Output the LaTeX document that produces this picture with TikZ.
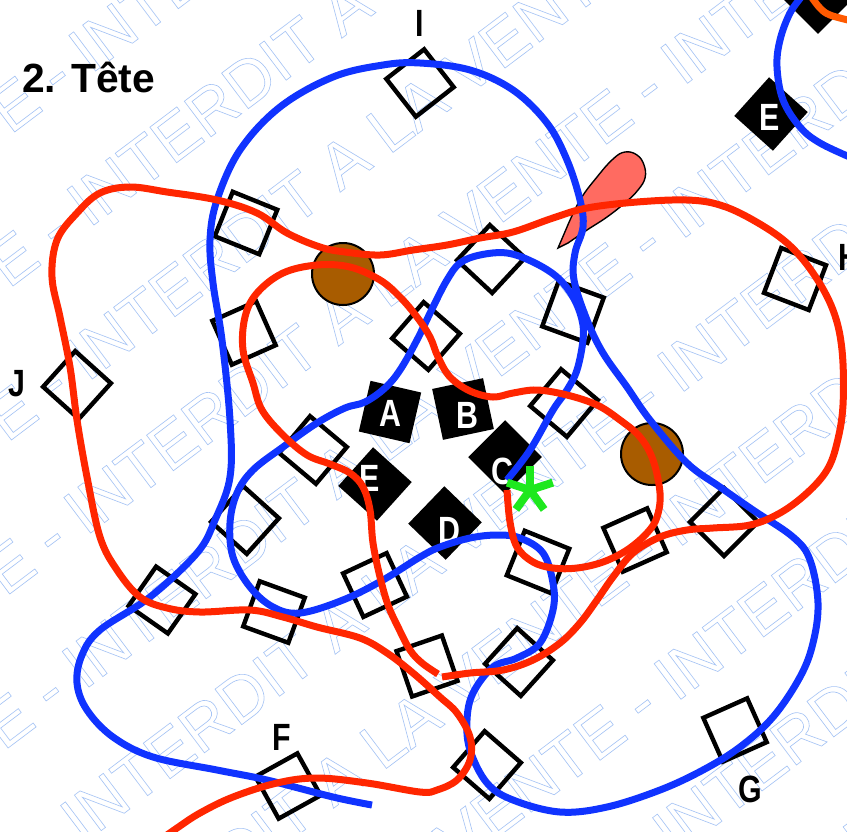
\documentclass[tikz,border=0pt]{standalone}
\usepackage{fontspec}
\setmainfont{Liberation Sans}
\newfontfamily\labelfont[FakeStretch=0.8]{Liberation Sans}
\usetikzlibrary{positioning}
\definecolor{wmblue}{HTML}{A6C4F5}
\definecolor{pathblue}{HTML}{1033FF}
\definecolor{pathred}{HTML}{FF2600}
\definecolor{pathorange}{HTML}{FF5A00}
\definecolor{beadbrown}{HTML}{A85C00}
\definecolor{leafred}{HTML}{FF6B61}
\definecolor{stargreen}{HTML}{1EE81E}
\newcommand{\wmtext}{INTERDIT A LA VENTE - }
\tikzset{
  slot/.style={
    draw,
    black,
    rectangle,
    line width=1.1mm,
    minimum size=12mm,
    inner sep=0,
  },
  piece/.style={
    fill=black,
    rectangle,
    minimum size=13mm,
    inner sep=0,
  },
  piecelabel/.style={
    white,
    inner sep=0,
    font=\labelfont\bfseries\fontsize{27}{27}\selectfont,
  },
  letter/.style={
    black,
    inner sep=0,
    font=\labelfont\bfseries\fontsize{27}{27}\selectfont,
  },
  bead/.style={
    draw,
    circle,
    line width=0.5mm,
    fill=beadbrown,
    minimum size=15.5mm,
    inner sep=0,
  },
  route/.style={
    line width=1.75mm,
    line join=round,
  },
  wmark/.style={
    anchor=west,
    rotate=37,
    inner sep=0,
    text=wmblue,
    font=\fontsize{46}{46}\selectfont,
  },
}

\begin{document}
\begin{tikzpicture}[x=0.25mm,y=-0.25mm]
  \useasboundingbox (0,0) rectangle (847,831);
  \clip (0,0) rectangle (847,831);
  \fill [white] (0,0) rectangle (847,831);

  % watermark
  \foreach \k in {0,...,9}{
    \pgfmathsetmacro{\ws}{92+122*\k}
    \pgfmathsetmacro{\wt}{-720-94*\k}
    \node (wm\k) [wmark] at ({\wt*cos(37)+\ws*sin(37)},{-\wt*sin(37)+\ws*cos(37)})
      {\special{pdf:literal direct 1 Tr 0.45 w}\wmtext\wmtext\wmtext\wmtext};
  }

  % empty slots
  \foreach \x/\y/\a [count=\i] in {420/83/38, 246/223/-22, 244/333/24, 77/385/48,
      426/336/49, 491/259/47, 573/312/-20, 795/279/-21, 564/403/50, 313/450/50,
      245/520/48, 162/600/55, 274/612/-20, 375/585/25, 427/666/19, 519/662/48,
      538/562/-22, 635/540/24, 724/522/45, 735/730/24, 487/765/49, 288/786/29}
    \node (slot\i) [slot,rotate=\a] at (\x,\y) {};

  % pieces
  \node (pieceA) [piece,rotate=-13] at (390,412) {};
  \node (pieceB) [piece,rotate=12]  at (463,409) {};
  \node (pieceC) [piece,rotate=45]  at (505,457) {};
  \node (pieceD) [piece,rotate=46]  at (445,523) {};
  \node (pieceE) [piece,rotate=48]  at (375,484) {};
  \node (pieceE2) [piece,rotate=48] at (771,114) {};
  \node (pieceX) [piece,rotate=45]  at (818,-3) {};
  \node (labelA) [piecelabel] at (390,413) {A};
  \node (labelB) [piecelabel] at (467,415) {B};
  \node (labelC) [piecelabel] at (502,471) {C};
  \node (labelD) [piecelabel] at (449,530) {D};
  \node (labelE) [piecelabel] at (370,478) {E};
  \node (labelE2) [piecelabel] at (770,117) {E};

  % beads and leaf
  \node (bead1) [bead] at (343,274) {};
  \node (bead2) [bead] at (652,454) {};
  \filldraw [fill=leafred,draw=black,line width=0.35mm]
    (558,248) -- plot [smooth,tension=0.7] coordinates {(567,227) (580,200) (597,177)
      (613,159) (625,152) (637,155) (644,165) (645,178) (638,190) (626,202) (607,217)
      (587,230) (568,243)} -- cycle;

  % blue route
  \draw [route,pathblue] plot [smooth,tension=0.6] coordinates {
    (372,805) (333,797) (267,780) (217,770) (153,757) (113,737) (87,710) (77,683)
    (82,655) (100,630) (150,597) (197,553) (215,520) (230,477) (230,420) (222,340)
    (213,283) (210,240) (217,200) (240,150) (280,107) (333,77) (383,65) (420,63)
    (470,70) (513,90) (547,123) (567,160) (580,200) (583,227) (575,253) (574,280)
    (587,320) (603,353) (627,387) (650,420) (687,463) (720,487) (753,510) (793,537)
    (810,560) (818,603) (813,643) (800,677) (773,717) (740,747) (703,770) (660,790)
    (607,807) (560,812) (513,800) (487,783) (470,750) (467,720) (473,693) (493,667)
    (517,658) (540,643) (553,610) (553,583) (543,553) (520,538) (497,535) (470,538)
    (440,547) (420,557) (383,580) (343,600) (300,613) (273,607) (250,587) (233,557)
    (230,523) (237,493) (253,470) (283,447) (317,423) (345,408) (365,402) (385,388)
    (400,370) (417,340) (433,307) (447,280) (460,263) (480,255) (507,253) (533,262)
    (557,277) (573,297) (582,320) (583,340) (577,370) (567,390) (553,410) (530,450)
    (507,480)};
  \draw [route,pathblue] plot [smooth,tension=0.6] coordinates {
    (803,-5) (790,13) (780,40) (777,67) (783,100) (800,127) (820,143) (852,158)};

  % red routes
  \draw [route,pathred] plot [smooth,tension=0.6] coordinates {
    (442,677) (470,673) (503,670) (533,660) (560,643) (580,623) (597,600) (613,577)
    (633,553) (660,537) (687,530) (713,528) (750,525) (780,513) (807,493) (827,470)
    (837,443) (843,405) (842,350) (833,310) (813,273) (787,243) (753,220) (720,205)
    (687,200) (637,202) (587,208) (553,218) (513,232) (480,238) (447,245) (413,250)
    (380,255) (345,252) (320,247) (287,233) (257,213) (217,200) (167,192) (130,187)
    (100,193) (77,213) (57,240) (52,277) (60,317) (70,367) (77,420) (87,477)
    (100,537) (117,570) (140,597) (167,608) (200,612) (250,610) (283,617) (317,627)
    (360,638) (387,653) (413,673) (440,697) (457,713) (470,737) (470,760) (457,780)
    (437,790) (420,792) (367,783) (317,778) (277,783) (233,797) (200,813) (177,828)
    (160,840)};
  \draw [route,pathred] plot [smooth,tension=0.6] coordinates {
    (507,490) (510,522) (517,547) (533,562) (553,568) (577,568) (603,562) (627,550)
    (647,533) (657,517) (660,493) (653,460) (640,437) (620,420) (597,405) (567,395)
    (537,390) (513,393) (493,397) (470,391) (450,377) (438,357) (430,337) (417,317)
    (400,297) (380,280) (350,267) (317,265) (283,273) (257,293) (245,317) (243,350)
    (253,383) (262,410) (283,435) (307,455) (330,464) (350,473) (363,487) (370,510)
    (373,543) (380,577) (388,605) (398,627) (410,650) (422,663) (438,674)};
  \draw [route,pathorange] plot [smooth,tension=0.6] coordinates {
    (810,-5) (820,8) (830,15) (852,21)};

  % star
  \foreach \a in {-90,-18,54,126,-162}
    \draw [stargreen,line width=2mm] (530,490) -- ++(\a:24);

  % letters
  \node (title) [anchor=base west,inner sep=0,font=\bfseries\fontsize{29}{29}\selectfont]
    at (22,92) {2. Tête};
  \node (letterI) [letter] at (420,23)  {I};
  \node (letterJ) [letter] at (17,384)  {J};
  \node (letterF) [letter] at (282,737) {F};
  \node (letterG) [letter] at (750,789) {G};
  \node (letterH) [letter] at (849,257) {H};
\end{tikzpicture}
\end{document}
